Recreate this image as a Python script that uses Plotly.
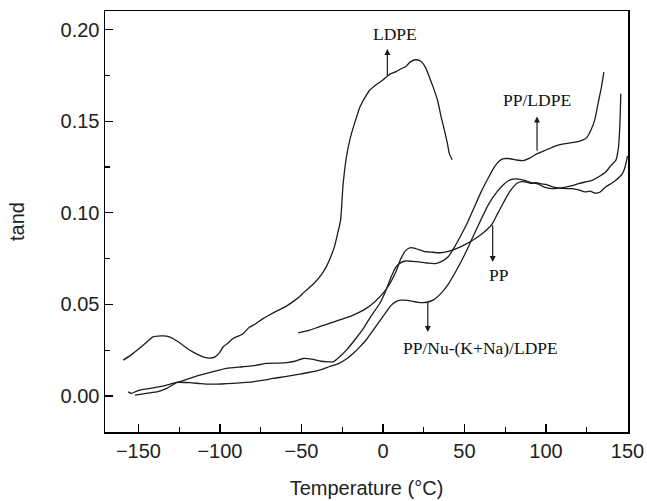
import plotly.graph_objects as go

# ---- data ----
ldpe_x = [-159.3, -153.2, -147, -141, -136, -132.7, -128, -124.6, -120, -116.4, -110.3, -106, -103, -100, -98,
          -95, -92, -88, -85.8, -82, -78, -74, -70, -65, -60, -56, -52.6, -48, -42.4, -38, -34.8, -32, -29.8,
          -28, -26, -24.5, -22.5, -20, -17, -14, -11, -8, -4, 0, 4, 8, 11.2, 14.2, 17, 20, 23, 26, 28.5, 31,
          33.6, 35.5, 37.7, 39.5, 40.8, 42.5]
ldpe_y = [0.0196, 0.0233, 0.0278, 0.0323, 0.0328, 0.0327, 0.031, 0.029, 0.026, 0.024, 0.0214, 0.0207, 0.0214,
          0.024, 0.0269, 0.029, 0.0314, 0.033, 0.034, 0.0375, 0.0395, 0.042, 0.0441, 0.0465, 0.0487, 0.051,
          0.0532, 0.057, 0.0614, 0.066, 0.0705, 0.076, 0.0814, 0.088, 0.096, 0.115, 0.13, 0.141, 0.150, 0.158,
          0.163, 0.167, 0.170, 0.1725, 0.1755, 0.177, 0.1786, 0.180, 0.1825, 0.1835, 0.1828, 0.1795, 0.174,
          0.168, 0.161, 0.153, 0.145, 0.138, 0.132, 0.129]

pp_x = [-52, -45, -40, -35, -30, -25, -20, -15, -10, -5, 0, 4, 8, 11, 14, 17, 20, 25, 30, 35, 40, 45, 50, 55,
        60, 64, 67, 70, 73, 76, 79, 82, 85, 88, 91, 94, 97, 100, 104, 108, 112, 116, 120, 124, 127, 130, 133,
        136.6, 140, 142.8, 145, 146.9, 148.5, 150]
pp_y = [0.0345, 0.036, 0.0375, 0.039, 0.0405, 0.042, 0.0435, 0.0455, 0.048, 0.0515, 0.056, 0.061, 0.068,
        0.075, 0.0795, 0.081, 0.0805, 0.079, 0.0785, 0.0782, 0.079, 0.0805, 0.0825, 0.085, 0.088, 0.091, 0.094,
        0.099, 0.104, 0.109, 0.113, 0.116, 0.117, 0.1168, 0.116, 0.1165, 0.1158, 0.1155, 0.1141, 0.1135,
        0.1132, 0.1132, 0.1125, 0.1114, 0.1118, 0.1108, 0.1112, 0.1141, 0.116, 0.1177, 0.1195, 0.1214,
        0.125, 0.131]

ppldpe_x = [-152.1, -145, -138, -132.7, -126.6, -120.5, -112.3, -104.2, -96, -86, -78, -71.5, -65, -59, -54,
            -49, -43, -38, -34, -30.5, -26.6, -22, -17, -12, -7, -2, 2, 5, 8, 11, 14, 18, 22, 27, 32, 36, 40,
            44, 48, 52, 56, 60, 64, 68, 71, 74, 78, 82, 86, 90, 94, 98, 102, 106, 110, 114, 118, 122, 125,
            127.5, 130, 132, 134, 135.5]
ppldpe_y = [0.0005, 0.0015, 0.0024, 0.0042, 0.0073, 0.0091, 0.0114, 0.0133, 0.0151, 0.016, 0.0168, 0.0178,
            0.018, 0.0182, 0.019, 0.0205, 0.020, 0.019, 0.0187, 0.0187, 0.0214, 0.0255, 0.031, 0.037, 0.044,
            0.0505, 0.058, 0.065, 0.0705, 0.0728, 0.0737, 0.0735, 0.0732, 0.0726, 0.0723, 0.0735, 0.076,
            0.0815, 0.088, 0.095, 0.103, 0.111, 0.118, 0.1245, 0.128, 0.1295, 0.1295, 0.1288, 0.1285, 0.1298,
            0.132, 0.1335, 0.135, 0.1365, 0.1375, 0.138, 0.1385, 0.1395, 0.141, 0.145, 0.151, 0.160, 0.1686,
            0.1767]

ppnu_x = [-156.2, -154.2, -151, -147, -142, -137, -131, -126.6, -118.5, -112, -106, -99, -92, -86, -80, -73,
          -67.5, -60, -51, -45, -39, -33, -27, -22, -18, -14, -10, -6, -2, 2, 5, 8, 11, 15, 19, 23, 27, 31, 35,
          40, 45, 50, 55, 60, 65, 70, 74, 78, 82, 87, 91, 95, 99, 103.5, 108, 112, 116, 120, 124, 128.3, 132,
          136.6, 140, 142.8, 144.5, 145.3, 145.9]
ppnu_y = [0.0023, 0.0015, 0.0027, 0.0036, 0.0043, 0.0051, 0.0064, 0.0075, 0.0073, 0.0068, 0.0065, 0.0066,
          0.0069, 0.0073, 0.0078, 0.0087, 0.0096, 0.0106, 0.012, 0.013, 0.0142, 0.016, 0.0178, 0.0205, 0.0235,
          0.027, 0.031, 0.036, 0.041, 0.046, 0.0495, 0.0515, 0.0523, 0.0522, 0.0515, 0.051, 0.0512, 0.0525,
          0.0555, 0.061, 0.0685, 0.077, 0.0865, 0.096, 0.105, 0.1115, 0.1155, 0.118, 0.1185, 0.1177, 0.1165,
          0.1158, 0.114, 0.1132, 0.1135, 0.114, 0.1148, 0.1159, 0.1168, 0.1177, 0.1195, 0.1223, 0.126, 0.1286,
          0.136, 0.148, 0.165]

# labels: (text, x, y) and arrows: (x, y_tail, y_head)
label_text = ["LDPE", "PP/LDPE", "PP", "PP/Nu-(K+Na)/LDPE"]
label_x = [7.5, 94.5, 71, 59.6]
label_y = [0.1976, 0.1613, 0.066, 0.026]
arrow_x = [2.7, 94.5, 67.3, 27.5]
arrow_tail = [0.174, 0.133, 0.094, 0.0523]
arrow_head = [0.1894, 0.1526, 0.0732, 0.035]

LINE = "#1c1c1c"
fig = go.Figure()
for xs, ys in [(ldpe_x, ldpe_y), (pp_x, pp_y), (ppldpe_x, ppldpe_y), (ppnu_x, ppnu_y)]:
    fig.add_trace(go.Scatter(x=xs, y=ys, mode="lines", line=dict(color=LINE, width=1.3, shape="spline", smoothing=0.6),
                             showlegend=False, hoverinfo="skip"))

annotations = []
for t, lx, ly in zip(label_text, label_x, label_y):
    annotations.append(dict(x=lx, y=ly, xref="x", yref="y", text=t, showarrow=False,
                            font=dict(family="Liberation Serif", size=17.5, color="#111")))
for ax_, yt, yh in zip(arrow_x, arrow_tail, arrow_head):
    annotations.append(dict(x=ax_, y=yh, ax=ax_, ay=yt, xref="x", yref="y", axref="x", ayref="y",
                            text="", showarrow=True, arrowhead=2, arrowsize=1, arrowwidth=1.2,
                            arrowcolor=LINE, standoff=0, startstandoff=0))

axis_common = dict(showline=True, linecolor="black", linewidth=1.5, mirror=True, ticks="inside",
                   ticklen=8, tickwidth=1.3, tickcolor="black", showgrid=False, zeroline=False,
                   tickfont=dict(family="Liberation Sans", size=20, color="#222"))

fig.update_layout(
    width=647, height=501,
    margin=dict(l=105, r=19, t=11, b=69, autoexpand=False),
    paper_bgcolor="white", plot_bgcolor="white",
    annotations=annotations,
    xaxis=dict(range=[-170.5, 150.3], tickmode="linear", tick0=0, dtick=50,
               minor=dict(dtick=25, ticks="inside", ticklen=5, tickcolor="black", tickwidth=1.1),
               title=dict(text="Temperature (°C)", font=dict(family="Liberation Sans", size=20, color="#222"),
                          standoff=20),
               **axis_common),
    yaxis=dict(range=[-0.0196, 0.2101], tickmode="linear", tick0=0, dtick=0.05, tickformat=".2f",
               minor=dict(dtick=0.025, ticks="inside", ticklen=5, tickcolor="black", tickwidth=1.1),
               title=dict(text="tand", font=dict(family="Liberation Sans", size=20, color="#222"),
                          standoff=30),
               **axis_common),
)

fig.write_html("out.html", config={"displayModeBar": False, "staticPlot": True},
               post_script="document.body.style.margin='0';document.body.style.overflow='hidden';")
